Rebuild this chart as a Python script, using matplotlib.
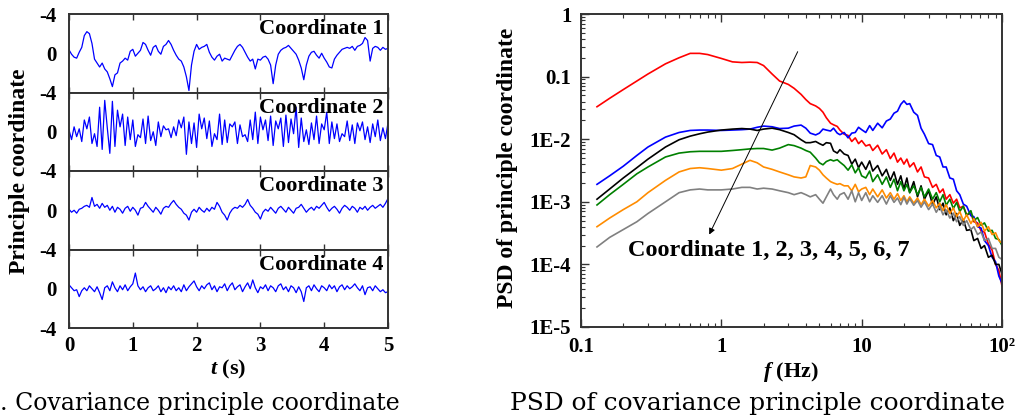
import numpy as np
import matplotlib
matplotlib.use("Agg")
import matplotlib.pyplot as plt

plt.rcParams["mathtext.fontset"] = "custom"
plt.rcParams["mathtext.rm"] = "Liberation Serif:bold"
plt.rcParams["mathtext.bf"] = "Liberation Serif:bold"
plt.rcParams["mathtext.it"] = "Liberation Serif:italic:bold"
plt.rcParams["mathtext.bfit"] = "Liberation Serif:italic:bold"

# ---------------- data ----------------
# principal-coordinate time histories (sampled every 0.04 s over 0-5 s)
sample_dt = 0.04
coord1 = [0.35, -0.1, -0.4, -0.5, 0.1, 0.6, 1.8, 2.2, 2.0, 1.0, -0.6, -1.0, -1.4, -1.0, -1.6, -1.9,
          -2.6, -3.4, -2.2, -2.0, -1.0, -0.8, -0.5, -0.7, 0.2, 0.4, -0.3, 0.0, 0.3, 1.1, 0.9, 0.3,
          -0.2, 0.6, 0.8, 0.2, -0.1, 0.7, 0.9, 1.3, 0.9, 0.3, -0.2, -0.6, -0.8, -1.4, -2.4, -3.8,
          -1.2, 0.2, 0.9, 0.4, 0.6, 0.7, 0.9, 0.1, -0.4, -0.7, -0.3, -0.1, -0.8, -0.5, -0.6, -0.7,
          -0.2, 0.3, 0.7, 0.9, 0.6, 0.1, -0.4, -0.8, -0.6, -1.6, -0.6, -0.7, -0.4, -0.3, -0.6, -1.2,
          -3.1, -1.2, -0.1, 0.3, 0.5, 0.6, 0.8, 0.5, 0.2, -0.1, -0.7, -1.5, -2.7, -1.2, -0.3, 0.1,
          0.2, -0.2, -0.5, 0.0, -0.5, -0.9, -1.4, -1.5, -0.6, -0.2, 0.1, 0.4, 0.5, 0.6, 0.5, 0.7,
          0.3, 0.7, 0.8, 1.0, 1.6, 1.3, -0.8, 0.5, 0.7, 0.6, 0.3, 0.6, 0.4, 0.5]
coord2 = [0.2, -0.8, 0.5, -0.5, 0.3, -1.0, 1.2, 0.3, 1.5, -1.2, -0.2, -1.5, 2.5, -1.8, 3.2, 0.4,
          -2.2, 3.1, -1.5, 2.2, 0.5, 1.8, -1.4, 1.5, -0.8, 1.2, -1.5, -0.3, -0.6, 1.3, -1.2, 1.6,
          -0.9, 0.0, -1.4, 1.0, -0.5, 0.6, 0.2, 0.3, -0.6, 0.5, -0.4, 1.2, 0.4, 1.5, -2.3, 1.0,
          -1.2, 0.9, -1.6, 1.8, 0.3, 1.4, -0.7, 1.1, -1.5, -0.2, -0.8, 1.8, -1.3, 1.2, -1.1, 0.8,
          0.5, 1.0, -1.2, 0.7, -0.5, -0.3, -1.0, 1.2, -0.8, 2.0, -1.2, 1.5, 0.2, 1.2, -0.9, 1.6,
          -1.4, 1.1, 0.3, 1.4, -1.5, 1.7, -1.1, 1.3, -0.2, 2.5, -1.6, 1.4, -1.0, 0.2, -1.3, 0.9,
          -0.8, 1.6, -1.2, 0.8, 0.2, 2.0, -1.2, 1.0, -0.7, 0.8, -1.0, -0.2, -0.5, 1.1, -0.9, 0.7,
          -1.2, 0.9, 0.1, 1.0, -0.8, 0.5, -1.1, 0.8, -0.5, 1.2, -0.9, 0.4, -0.7, 0.9]
coord3 = [0.1, -0.2, 0.0, -0.3, 0.1, 0.2, 0.4, 0.5, 0.3, 1.3, 0.4, 0.6, 0.2, 0.7, 0.3, 0.5,
          0.0, 0.4, -0.2, 0.3, 0.1, -0.3, 0.2, 0.4, -0.1, 0.3, 0.0, -0.5, 0.2, 0.3, 0.8, 0.4,
          0.1, -0.2, 0.3, 0.0, -0.4, 0.2, 0.4, 0.3, 0.7, 1.0, 0.6, 0.3, 0.1, -0.3, -0.5, -1.0,
          -0.2, 0.1, -0.2, 0.3, 0.0, -0.2, 0.2, -0.1, 0.3, 0.1, 0.8, 0.4, -0.2, -0.5, -1.0, -0.3,
          0.1, 0.3, 0.2, 0.5, 0.3, 0.6, 1.1, 0.5, 0.2, -0.2, -0.4, -0.9, -0.2, 0.1, -0.1, 0.3,
          0.0, -0.3, 0.2, 0.4, 0.1, -0.2, 0.3, 0.0, -0.3, 0.2, 0.3, 0.6, 0.2, -0.2, 0.1, 0.3,
          0.0, 0.4, 0.2, 0.5, 0.8, 0.3, -0.1, 0.2, 0.4, 0.1, -0.3, 0.2, 0.5, 0.3, 0.0, 0.4,
          0.2, -0.2, 0.3, 0.1, 0.4, 0.0, 0.3, 0.5, 0.2, 0.4, 0.6, 0.3, 0.7, 1.2]
coord4 = [0.4, 0.1, -0.2, -0.1, -0.8, -0.2, 0.1, -0.2, 0.3, 0.0, -0.3, 0.2, -0.4, -1.1, 0.1, 0.3,
          -0.2, 0.7, 0.1, -0.3, 0.3, -0.1, 0.4, -0.2, 0.2, 0.5, 1.6, 0.3, -0.1, 0.2, -0.3, 0.1,
          0.3, -0.2, 0.0, 0.3, -0.3, 0.1, -0.4, 0.2, -0.1, 0.3, -0.2, 0.1, -0.3, 0.4, -0.2, 0.2,
          0.5, 0.8, 0.2, -0.2, 0.3, 0.0, 0.4, 0.6, -0.1, 0.3, -0.3, 0.2, 0.1, 0.5, -0.2, 0.3,
          0.6, -0.1, 0.2, 0.4, -0.3, 0.2, 0.6, 0.0, 0.9, 0.1, -0.4, 0.2, 0.0, 0.4, -0.2, 0.3,
          0.1, -0.3, 0.3, 0.5, -0.1, 0.2, -0.3, 0.3, 0.1, -0.4, 0.2, -0.3, -1.3, 0.1, 0.3, -0.2,
          0.4, 0.0, -0.3, 0.3, 0.1, -0.2, 0.4, 0.0, 0.3, -0.3, 0.2, 0.4, -0.1, 0.3, 0.0, 0.2,
          0.5, 0.1, -0.2, 0.3, -0.6, 0.1, 0.2, -0.2, 0.3, 0.0, -0.3, -0.1, -0.4, -0.3]
series_names = ["Coordinate 1", "Coordinate 2", "Coordinate 3", "Coordinate 4"]

# PSD of principal coordinates (Hz, units^2/Hz)
freq = [0.13, 0.16, 0.2, 0.25, 0.3, 0.4, 0.5, 0.6, 0.7, 0.8, 1.0, 1.2, 1.4, 1.6, 1.8, 2.0,
        2.3, 2.6, 3.0, 3.3, 3.7, 4.0, 4.3, 4.7, 5.0, 5.3, 5.6, 6.0, 6.3, 6.7, 7.0, 7.5,
        8.0, 8.5, 9.0, 9.5, 10, 10.7, 11.4, 12, 13, 14, 15, 16, 17, 18, 19, 20,
        21, 22, 23.5, 25, 26.5, 28, 30, 32, 34, 36, 38, 40, 42.5, 45, 47.5, 50,
        53, 56, 60, 63, 67, 71, 75, 80, 85, 90, 95, 100]
psd1 = [0.033, 0.045, 0.062, 0.085, 0.11, 0.16, 0.2, 0.235, 0.235, 0.225, 0.195, 0.172, 0.168, 0.17, 0.168, 0.15,
        0.11, 0.085, 0.075, 0.065, 0.052, 0.043, 0.037, 0.034, 0.031, 0.027, 0.022, 0.018, 0.017, 0.016, 0.014, 0.012,
        0.0115, 0.0092, 0.0105, 0.0085, 0.0095, 0.0078, 0.0082, 0.0066, 0.0080, 0.0058, 0.0068, 0.0049, 0.0060, 0.0043, 0.0050, 0.0040,
        0.0048, 0.0036, 0.0042, 0.0030, 0.0036, 0.0025, 0.0024, 0.0017, 0.0019, 0.0014, 0.0016, 0.0011, 0.0013, 0.00095, 0.0011, 0.0008,
        0.00085, 0.00062, 0.00065, 0.00048, 0.00046, 0.00034, 0.00033, 0.00021, 0.00017, 0.0001, 0.00008, 0.000045]
psd2 = [0.0019, 0.0026, 0.0037, 0.0055, 0.0075, 0.0108, 0.0128, 0.0138, 0.014, 0.014, 0.0138, 0.014, 0.0142, 0.0145, 0.0155, 0.0162,
        0.0158, 0.0148, 0.015, 0.0162, 0.0168, 0.015, 0.0125, 0.0117, 0.0125, 0.0145, 0.014, 0.0135, 0.015, 0.0125, 0.0118, 0.0128,
        0.0105, 0.0125, 0.0128, 0.0155, 0.0142, 0.0128, 0.0165, 0.0138, 0.018, 0.0152, 0.0195, 0.021, 0.026, 0.028, 0.036, 0.041,
        0.036, 0.037, 0.027, 0.024, 0.015, 0.012, 0.0085, 0.0082, 0.0055, 0.0052, 0.0036, 0.0036, 0.0024, 0.0023, 0.0015, 0.0013,
        0.00092, 0.00085, 0.0006, 0.00058, 0.0004, 0.00038, 0.00024, 0.0002, 0.00013, 0.00011, 0.000065, 0.00005]
psd3 = [0.0011, 0.0016, 0.0024, 0.0035, 0.0048, 0.0075, 0.0098, 0.0112, 0.0122, 0.013, 0.014, 0.0145, 0.0148, 0.0145, 0.0138, 0.0145,
        0.015, 0.0142, 0.0128, 0.0118, 0.0098, 0.0088, 0.0088, 0.0092, 0.0085, 0.0080, 0.0088, 0.0086, 0.0065, 0.006, 0.0068, 0.0058,
        0.0055, 0.0040, 0.0048, 0.0035, 0.0043, 0.0033, 0.0045, 0.0031, 0.0038, 0.0026, 0.0033, 0.0022, 0.0030, 0.0019, 0.0026, 0.0016,
        0.0024, 0.0014, 0.0021, 0.0012, 0.0018, 0.0011, 0.0015, 0.0009, 0.0012, 0.00075, 0.00095, 0.00062, 0.0008, 0.0005, 0.00065, 0.00042,
        0.00052, 0.00035, 0.00036, 0.00024, 0.00026, 0.00018, 0.0002, 0.00013, 0.00014, 0.0001, 0.0001, 0.00007]
psd4 = [0.00089, 0.0013, 0.0019, 0.0028, 0.0036, 0.0052, 0.006, 0.0063, 0.0064, 0.0064, 0.0064, 0.0066, 0.0068, 0.007, 0.0071, 0.0071,
        0.0067, 0.0072, 0.0082, 0.0079, 0.0072, 0.0066, 0.0062, 0.005, 0.0042, 0.0039, 0.0044, 0.0047, 0.0045, 0.0047, 0.0043, 0.0038,
        0.0032, 0.0039, 0.0029, 0.0035, 0.0026, 0.0024, 0.0031, 0.0021, 0.0027, 0.0019, 0.0025, 0.0017, 0.0023, 0.0015, 0.0021, 0.0015,
        0.0019, 0.0014, 0.0018, 0.0013, 0.0017, 0.0012, 0.0016, 0.0011, 0.0014, 0.001, 0.0013, 0.00088, 0.0011, 0.00078, 0.00098, 0.0007,
        0.00085, 0.0006, 0.00072, 0.0005, 0.00056, 0.00042, 0.00046, 0.00034, 0.00035, 0.00026, 0.00025, 0.0002]
psd5 = [0.0004, 0.00055, 0.00075, 0.001, 0.0014, 0.0022, 0.003, 0.0034, 0.0035, 0.0034, 0.0032, 0.0034, 0.004, 0.0046, 0.0042, 0.0036,
        0.0033, 0.003, 0.0027, 0.0025, 0.0024, 0.0025, 0.0038, 0.0036, 0.0032, 0.0027, 0.0024, 0.0021, 0.002, 0.0019, 0.00195, 0.0018,
        0.0018, 0.0015, 0.0019, 0.00145, 0.0016, 0.0017, 0.0013, 0.0016, 0.0012, 0.00155, 0.00115, 0.0014, 0.0011, 0.00135, 0.00105, 0.00125,
        0.001, 0.0012, 0.00095, 0.00115, 0.0009, 0.0011, 0.00085, 0.00105, 0.0008, 0.00095, 0.00072, 0.0009, 0.00065, 0.0008, 0.00058, 0.0007,
        0.0005, 0.00062, 0.00045, 0.00054, 0.0004, 0.00047, 0.00034, 0.0004, 0.0003, 0.00032, 0.00024, 0.00022]
psd6 = [0.00019, 0.00027, 0.00036, 0.00048, 0.00065, 0.001, 0.0014, 0.00155, 0.0016, 0.00155, 0.00155, 0.0016, 0.0017, 0.0017, 0.0016, 0.00165,
        0.0016, 0.0015, 0.0014, 0.0013, 0.0014, 0.0013, 0.0012, 0.0013, 0.0011, 0.00095, 0.0012, 0.0016, 0.0013, 0.0011, 0.0013, 0.0014,
        0.0011, 0.0015, 0.001, 0.0014, 0.00105, 0.0014, 0.001, 0.00125, 0.00098, 0.00125, 0.00092, 0.00125, 0.00098, 0.00115, 0.0009, 0.00118,
        0.00092, 0.00112, 0.00088, 0.00105, 0.00082, 0.001, 0.00075, 0.00092, 0.00068, 0.00084, 0.00062, 0.00074, 0.00055, 0.00066, 0.00048, 0.00058,
        0.00042, 0.0005, 0.00036, 0.0004, 0.0003, 0.00033, 0.00024, 0.00026, 0.00018, 0.00018, 0.00013, 0.00012]
psd_series = [psd1, psd2, psd3, psd4, psd5, psd6]
psd_colors = ["#ff0000", "#0000ff", "#000000", "#008000", "#ff8c00", "#808080"]

freq_ticks = [0.1, 1, 10, 100]
freq_labels = ["0.1", "1", "10", "10\u00b2"]
psd_ticks = [1e-5, 1e-4, 1e-3, 1e-2, 0.1, 1]
psd_labels = ["1E-5", "1E-4", "1E-3", "1E-2", "0.1", "1"]

# arrow through the curves, from upper right to lower left
arrow_tail = (3.5, 0.25)
arrow_head = (0.82, 3.0e-4)
arrow_text = "Coordinate 1, 2, 3, 4, 5, 6, 7"

# ---------------- style ----------------
BOLD = dict(family="Liberation Serif", weight="bold")
spine_col = "#333333"
TICK_FS = 15

fig = plt.figure(figsize=(10.17, 4.2), dpi=100)

# ---------------- left: time histories ----------------
L, W = 69 / 1017, 319 / 1017
top_px, bot_px = 14, 328
ph = (bot_px - top_px) / 4 / 420
series = [coord1, coord2, coord3, coord4]
for k, (vals, name) in enumerate(zip(series, series_names)):
    bottom = 1 - top_px / 420 - (k + 1) * ph
    ax = fig.add_axes([L, bottom, W, ph])
    t = np.arange(len(vals)) * sample_dt
    ax.plot(t, vals, color="#0000ff", lw=0.9)
    ax.set_xlim(0, 5)
    ax.set_ylim(-4, 4)
    if k == 3:
        ax.set_yticks([-4, 0, 4])
        ax.set_yticklabels(["-4", "0", "-4"])
    else:
        ax.set_yticks([0, 4])
        ax.set_yticklabels(["0", "-4"])
    ax.set_xticks([0, 1, 2, 3, 4, 5])
    ax.tick_params(axis="x", direction="in", top=True, bottom=True, length=4,
                   width=1, color=spine_col, pad=6)
    ax.tick_params(axis="y", length=0, pad=9)
    if k < 3:
        ax.set_xticklabels([])
    for lab in ax.get_xticklabels() + ax.get_yticklabels():
        lab.set_fontproperties(dict(BOLD, size=TICK_FS))
    for sp in ax.spines.values():
        sp.set_color(spine_col)
        sp.set_linewidth(1.4)
    ax.text(0.985, 0.93, name, transform=ax.transAxes, ha="right", va="top",
            fontsize=16, **BOLD)
    if k == 3:
        ax.set_xlabel("$\\mathbfit{t}$ (s)", fontsize=16, labelpad=1, **BOLD)

fig.text(20 / 1017, 1 - 171 / 420, "Principle coordinate", rotation=90,
         ha="center", va="center", fontsize=17, **BOLD)

# ---------------- right: PSD ----------------
axp = fig.add_axes([581 / 1017, 1 - 327 / 420, 421 / 1017, 313 / 420])
for vals, col in zip(psd_series, psd_colors):
    axp.plot(freq, vals, color=col, lw=1.2)
axp.set_xscale("log")
axp.set_yscale("log")
axp.set_xlim(0.1, 100)
axp.set_ylim(1e-5, 1)
axp.set_xticks(freq_ticks)
axp.set_xticklabels(freq_labels)
axp.set_yticks(psd_ticks)
axp.set_yticklabels(psd_labels)
axp.tick_params(which="both", direction="in", top=True, right=False, color=spine_col)
axp.tick_params(which="major", length=6, width=1, pad=7)
axp.tick_params(which="minor", length=3, width=0.8)
for lab in axp.get_xticklabels() + axp.get_yticklabels():
    lab.set_fontproperties(dict(BOLD, size=TICK_FS))
for sp in axp.spines.values():
    sp.set_color(spine_col)
    sp.set_linewidth(1.4)
axp.set_xlabel("$\\mathbfit{f}$ (Hz)", fontsize=16, labelpad=2, **BOLD)
fig.text(508 / 1017, 1 - 168 / 420, "PSD of principle coordinate", rotation=90,
         ha="center", va="center", fontsize=17, **BOLD)

axp.annotate("", xy=arrow_head, xytext=arrow_tail,
             arrowprops=dict(arrowstyle="-|>", color="black", lw=0.7,
                             mutation_scale=9, shrinkA=0, shrinkB=0))
axp.text(0.215, 1.7e-4, arrow_text, ha="left", va="center", fontsize=17.5, **BOLD)

# ---------------- captions ----------------
fig.text(0.0, 1 - 410 / 420, ". Covariance principle coordinate", ha="left",
         va="baseline", fontsize=17, family="DejaVu Serif")
fig.text(510 / 1017, 1 - 410 / 420, "PSD of covariance principle coordinate",
         ha="left", va="baseline", fontsize=17.9, family="DejaVu Serif")

fig.savefig("out.png", dpi=100)
